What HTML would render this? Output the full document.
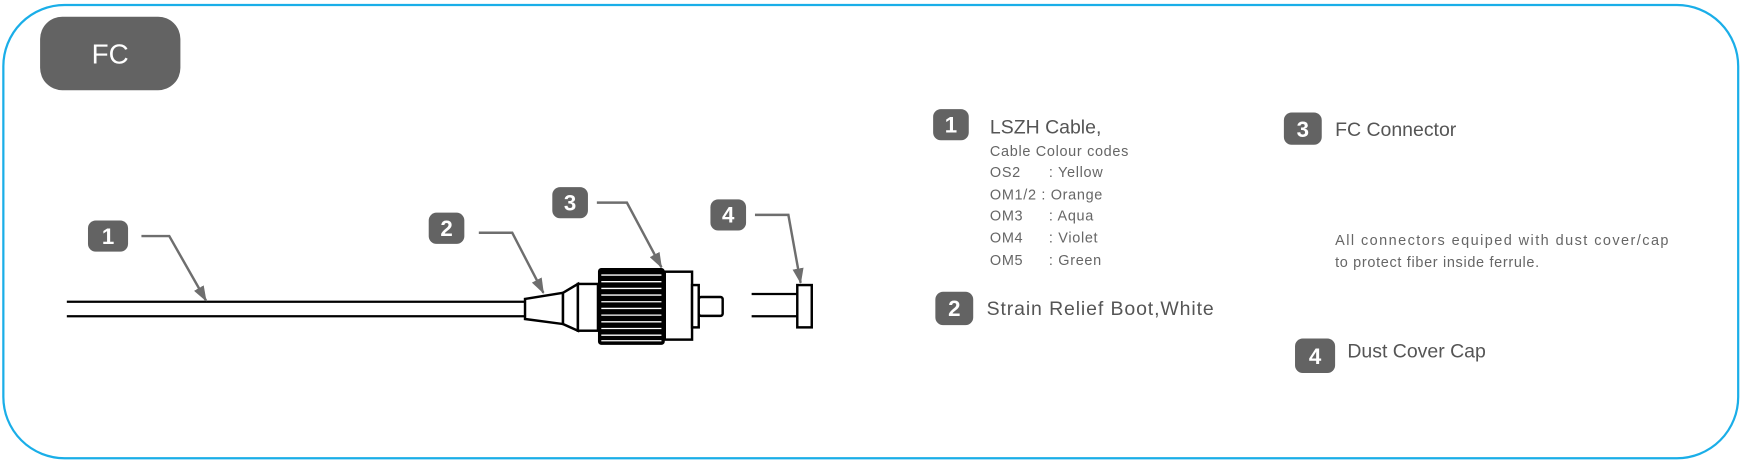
<!DOCTYPE html>
<html><head><meta charset="utf-8"><style>
html,body{margin:0;padding:0;background:#fff;width:1746px;height:465px;overflow:hidden}
svg{display:block}
text{font-family:"Liberation Sans",sans-serif}
.b{fill:#636363}
.bt{fill:#fff;font-size:20px;text-anchor:middle;font-weight:bold}
.t{fill:#555;font-size:17.5px}
.s{fill:#666;font-size:13px;letter-spacing:0.6px}
.ld{fill:none;stroke:#6e6e6e;stroke-width:2.2}
.k{fill:#fff;stroke:#000;stroke-width:2.2}
</style></head><body>
<svg width="1746" height="465" viewBox="0 0 1568 417.6" xmlns="http://www.w3.org/2000/svg">
<defs><marker id="A" markerWidth="14" markerHeight="10" refX="13" refY="5" orient="auto" markerUnits="userSpaceOnUse"><path d="M0,0 L14,5 L0,10 Z" fill="#6e6e6e"/></marker></defs>
<rect x="3" y="4.5" width="1558" height="407" rx="55" fill="none" stroke="#1aaee8" stroke-width="2"/>
<rect x="36" y="15" width="126" height="66" rx="20" class="b"/>
<text x="99" y="57" fill="#fff" font-size="25" text-anchor="middle">FC</text>

<line x1="60" y1="271" x2="472" y2="271" stroke="#000" stroke-width="2"/>
<line x1="60" y1="284" x2="472" y2="284" stroke="#000" stroke-width="2"/>
<path d="M471.5,268.5 L505.6,263 L505.6,291 L471.5,286.5 Z" class="k"/>
<path d="M505.6,263 L519,255 L519,297 L505.6,291 Z" class="k"/>
<rect x="519" y="255" width="18" height="42" class="k"/>
<rect x="537" y="240.7" width="60" height="69" rx="3" fill="#000"/>
<g stroke="#fff" stroke-width="1.2">
<line x1="540" y1="247" x2="594" y2="247"/><line x1="540" y1="253" x2="594" y2="253"/><line x1="540" y1="259" x2="594" y2="259"/><line x1="540" y1="265" x2="594" y2="265"/><line x1="540" y1="271" x2="594" y2="271"/><line x1="540" y1="277" x2="594" y2="277"/><line x1="540" y1="283" x2="594" y2="283"/><line x1="540" y1="289" x2="594" y2="289"/><line x1="540" y1="295" x2="594" y2="295"/><line x1="540" y1="301" x2="594" y2="301"/><line x1="540" y1="306" x2="594" y2="306"/>
</g>
<rect x="597" y="244" width="24.5" height="61" class="k"/>
<rect x="621.5" y="256" width="6" height="38" class="k"/>
<rect x="627.5" y="266.7" width="21.5" height="17" rx="2" class="k"/>
<line x1="675" y1="264" x2="716" y2="264" stroke="#000" stroke-width="2"/>
<line x1="675" y1="284" x2="716" y2="284" stroke="#000" stroke-width="2"/>
<rect x="716" y="256" width="13" height="38" class="k"/>

<rect x="79" y="198" width="36" height="28" rx="7" class="b"/><text x="97" y="219" class="bt">1</text>
<polyline points="127,212 152,212 185,270" class="ld" marker-end="url(#A)"/>
<rect x="385" y="191" width="32" height="28" rx="7" class="b"/><text x="401" y="212" class="bt">2</text>
<polyline points="430,209 460,209 488,263" class="ld" marker-end="url(#A)"/>
<rect x="496" y="168" width="32" height="28" rx="7" class="b"/><text x="512" y="189" class="bt">3</text>
<polyline points="536,182 563,182 594,240" class="ld" marker-end="url(#A)"/>
<rect x="638" y="179" width="32" height="28" rx="7" class="b"/><text x="654" y="200" class="bt">4</text>
<polyline points="678,193 708,193 719,254" class="ld" marker-end="url(#A)"/>

<rect x="838" y="98" width="32" height="28" rx="7" class="b"/><text x="854" y="119" class="bt">1</text>
<text x="889" y="120" class="t">LSZH Cable,</text>
<text x="889" y="140" class="s">Cable Colour codes</text>
<text x="889" y="159" class="s">OS2</text><text x="942" y="159" class="s">: Yellow</text>
<text x="889" y="179" class="s">OM1/2 : Orange</text>
<text x="889" y="198" class="s">OM3</text><text x="942" y="198" class="s">: Aqua</text>
<text x="889" y="218" class="s">OM4</text><text x="942" y="218" class="s">: Violet</text>
<text x="889" y="238" class="s">OM5</text><text x="942" y="238" class="s">: Green</text>
<rect x="840" y="262" width="34" height="30" rx="7" class="b"/><text x="857" y="284" class="bt">2</text>
<text x="886" y="283" class="t" textLength="204">Strain Relief Boot,White</text>
<rect x="1153" y="101" width="34" height="29" rx="7" class="b"/><text x="1170" y="123" class="bt">3</text>
<text x="1199" y="122" class="t">FC Connector</text>
<text x="1199" y="220" class="s" textLength="300">All connectors equiped with dust cover/cap</text>
<text x="1199" y="240" class="s">to protect fiber inside ferrule.</text>
<rect x="1163" y="304" width="36" height="31" rx="7" class="b"/><text x="1181" y="327" class="bt">4</text>
<text x="1210" y="321" class="t">Dust Cover Cap</text>
</svg>
</body></html>
